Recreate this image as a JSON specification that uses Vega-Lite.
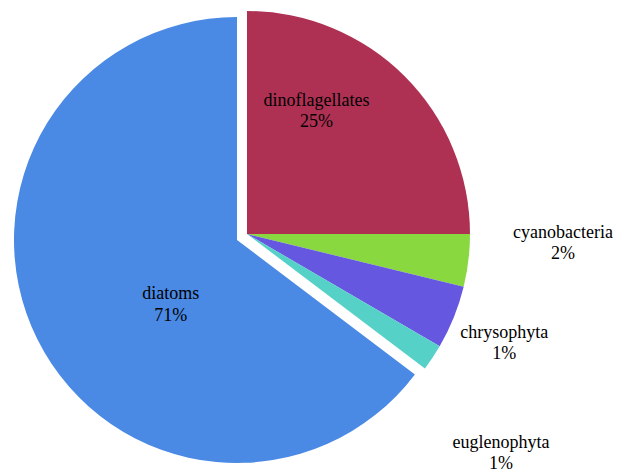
{
  "$schema": "https://vega.github.io/schema/vega-lite/v6.json",
  "width": 446,
  "height": 446,
  "autosize": {"type": "none"},
  "padding": {"left": 24, "top": 11, "right": 149, "bottom": 15},
  "background": "white",
  "config": {
    "view": {"stroke": null},
    "text": {"font": "Times New Roman", "fontSize": 18, "lineBreak": "\n", "lineHeight": 21.5, "align": "center", "baseline": "middle", "color": "black", "dy": -8}
  },
  "data": {
    "values": [
      {"group": "dinoflagellates", "value": 25, "label": "dinoflagellates\n25%"},
      {"group": "cyanobacteria", "value": 3.8, "label": "cyanobacteria\n2%"},
      {"group": "chrysophyta", "value": 4.6, "label": "chrysophyta\n1%"},
      {"group": "euglenophyta", "value": 1.9, "label": "euglenophyta\n1%"},
      {"group": "diatoms", "value": 64.7, "label": "diatoms\n71%"}
    ]
  },
  "transform": [{"stack": "value", "groupby": [], "as": ["v0", "v1"]}],
  "layer": [
    {
      "transform": [{"filter": "datum.group !== 'diatoms'"}],
      "mark": {"type": "arc"},
      "encoding": {
        "theta": {"field": "v0", "type": "quantitative", "scale": {"domain": [0, 100]}},
        "theta2": {"field": "v1"},
        "color": {
          "field": "group",
          "type": "nominal",
          "scale": {
            "domain": ["dinoflagellates", "cyanobacteria", "chrysophyta", "euglenophyta", "diatoms"],
            "range": ["#AE3154", "#89D840", "#6657E0", "#55D1C8", "#4A89E4"]
          },
          "legend": null
        }
      }
    },
    {
      "transform": [{"filter": "datum.group === 'diatoms'"}],
      "mark": {"type": "arc", "xOffset": -10, "yOffset": 6},
      "encoding": {
        "theta": {"field": "v0", "type": "quantitative", "scale": {"domain": [0, 100]}},
        "theta2": {"field": "v1"},
        "color": {
          "field": "group",
          "type": "nominal",
          "scale": {
            "domain": ["dinoflagellates", "cyanobacteria", "chrysophyta", "euglenophyta", "diatoms"],
            "range": ["#AE3154", "#89D840", "#6657E0", "#55D1C8", "#4A89E4"]
          },
          "legend": null
        }
      }
    },
    {
      "transform": [{"filter": "datum.group === 'dinoflagellates'"}],
      "mark": {"type": "text", "radius": 143.2, "thetaOffset": 0.507},
      "encoding": {
        "theta": {"field": "v0", "type": "quantitative", "scale": {"domain": [0, 100]}},
        "text": {"field": "label"}
      }
    },
    {
      "transform": [{"filter": "datum.group === 'cyanobacteria'"}],
      "mark": {"type": "text", "radius": 316.1, "thetaOffset": 0.0206},
      "encoding": {
        "theta": {"field": "v0", "type": "quantitative", "scale": {"domain": [0, 100]}},
        "text": {"field": "label"}
      }
    },
    {
      "transform": [{"filter": "datum.group === 'chrysophyta'"}],
      "mark": {"type": "text", "radius": 278.4, "thetaOffset": 0.1538},
      "encoding": {
        "theta": {"field": "v0", "type": "quantitative", "scale": {"domain": [0, 100]}},
        "text": {"field": "label"}
      }
    },
    {
      "transform": [{"filter": "datum.group === 'euglenophyta'"}],
      "mark": {"type": "text", "radius": 334, "thetaOffset": 0.1794},
      "encoding": {
        "theta": {"field": "v0", "type": "quantitative", "scale": {"domain": [0, 100]}},
        "text": {"field": "label"}
      }
    },
    {
      "transform": [{"filter": "datum.group === 'diatoms'"}],
      "mark": {"type": "text", "radius": 90.8, "thetaOffset": 1.741, "xOffset": -10, "yOffset": 6},
      "encoding": {
        "theta": {"field": "v0", "type": "quantitative", "scale": {"domain": [0, 100]}},
        "text": {"field": "label"}
      }
    }
  ]
}
